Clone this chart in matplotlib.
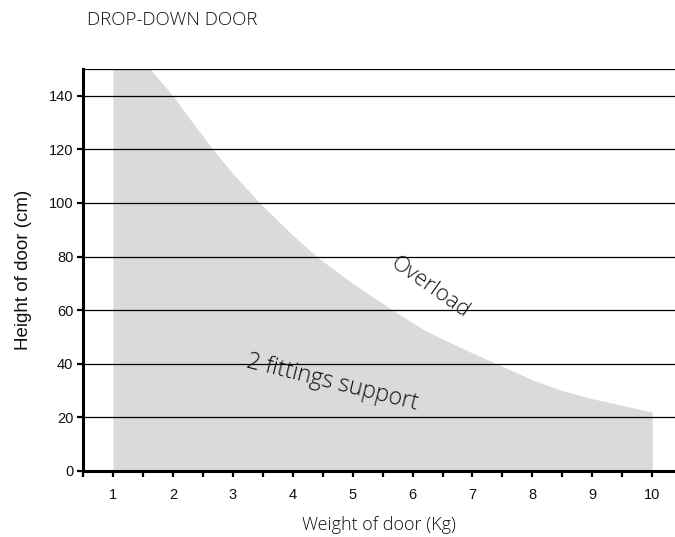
import matplotlib
matplotlib.use("Agg")
import matplotlib.pyplot as plt
from matplotlib.ticker import MultipleLocator
import numpy as np

# Data
weight_kg = [1.0, 1.62, 2.0, 2.33, 2.67, 3.0, 3.45, 4.0, 4.4, 5.0, 5.67, 6.2, 7.0, 7.41, 8.0, 8.5, 9.0, 10.0]
max_height_cm = [150, 150, 140, 130, 120, 111, 100, 88, 80, 70, 60, 52.5, 44, 40, 34, 30, 27, 22]
x_ticks = [1, 2, 3, 4, 5, 6, 7, 8, 9, 10]
y_ticks = [0, 20, 40, 60, 80, 100, 120, 140]
grid_levels = [20, 40, 60, 80, 100, 120, 140, 150]

LIGHT = "Open Sans"

fig = plt.figure(figsize=(6.75, 5.37), dpi=100)
ax = fig.add_axes([83/675, 1-471/537, 1-83/675, (471-69)/537])

ax.fill_between(weight_kg, 0, max_height_cm, color="#d9dadc", linewidth=0, zorder=1)

for g in grid_levels:
    ax.axhline(g, color="black", lw=0.9, zorder=2)

ax.set_xlim(0.5, 10.38)
ax.set_ylim(0, 150)

for s in ["top", "right"]:
    ax.spines[s].set_visible(False)
for s in ["left", "bottom"]:
    ax.spines[s].set_linewidth(2.2)
    ax.spines[s].set_zorder(5)

ax.set_xticks(x_ticks)
ax.xaxis.set_minor_locator(MultipleLocator(0.5))
ax.set_yticks(y_ticks)
ax.tick_params(axis="both", which="both", direction="out", width=1.6, length=4,
               labelsize=10.5, labelfontfamily="Liberation Sans", labelcolor="#111111")
ax.tick_params(axis="x", which="major", pad=8)
ax.tick_params(axis="y", which="major", pad=3)

ax.set_ylabel("Height of door (cm)", fontsize=13.5, family="Liberation Sans", labelpad=12, color="#111111")
ax.set_xlabel("Weight of door (Kg)", fontsize=13, family=LIGHT, fontweight="light", labelpad=10, color="#111111")

fig.text(87/675, 1-20/537, "DROP-DOWN DOOR", fontsize=13.5, family=LIGHT,
         fontweight="light", va="center", ha="left", color="#111111")

ax.text(6.29, 68.5, "Overload", rotation=-35, fontsize=16, family=LIGHT, fontweight="light",
        ha="center", va="center", color="#111111", zorder=6)
ax.text(4.66, 32.8, "2 fittings support", rotation=-14, fontsize=16.5, family=LIGHT, fontweight="light",
        ha="center", va="center", color="#111111", zorder=6)

fig.savefig("out.png", dpi=100)
